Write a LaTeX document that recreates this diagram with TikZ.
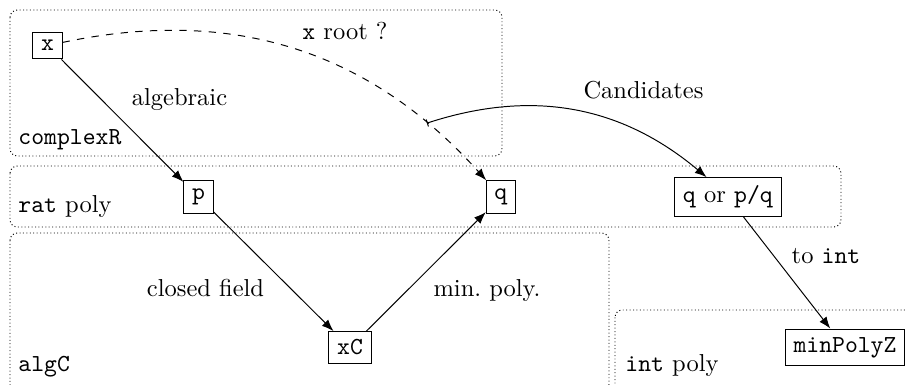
\documentclass[tikz,border=0pt]{standalone}
\usetikzlibrary{arrows.meta}
\begin{document}
\begin{tikzpicture}[x=0.4082pt,y=-0.4082pt,
  region/.style={densely dotted,rounded corners=3pt},
  obj/.style={draw,inner sep=3.33pt},
  lbl/.style={anchor=base,inner sep=0pt},
  rlbl/.style={anchor=base west,inner sep=0pt},
  arr/.style={-{Latex}}]
\useasboundingbox (0,0) rectangle (907,385);
% regions
\draw[region] (10,10) rectangle (502,156);
\draw[region] (10,166) rectangle (841,227);
\draw[region] (10,233) rectangle (609,392);
\draw[region] (615,310) rectangle (930,392);
\node[rlbl] (lcr) at (18,145) {\texttt{complexR}};
\node[rlbl] (lrp) at (18,213) {\texttt{rat} poly};
\node[rlbl] (lac) at (18,372) {\texttt{algC}};
\node[rlbl] (lip) at (625,372) {\texttt{int} poly};
% objects
\node[obj] (x) at (47.5,45.5) {\texttt{x}};
\node[obj] (p) at (198.5,197) {\texttt{p}};
\node[obj] (q) at (501,197) {\texttt{q}};
\node[obj] (xC) at (350,347.5) {\texttt{xC}};
\node[obj] (qp) at (728,197) {\texttt{q} or \texttt{p/q}};
\node[obj] (mz) at (845,347.5) {\texttt{minPolyZ}};
% arrows
\draw[arr] (x) -- (p);
\draw[arr] (p) -- (xC);
\draw[arr] (xC) -- (q);
\draw[arr,dashed] (x) to[bend left=30] coordinate[pos=0.835] (cs) (q);
\draw[{Bar[width=3pt]}-{Latex}] (cs) to[bend left=29] (qp);
\draw[arr] (qp) -- (mz);
% labels
\node[lbl] (lroot) at (345,40) {\texttt{x} root ?};
\node[lbl] (lalg) at (179.5,106) {algebraic};
\node[lbl] (lcand) at (643.5,99) {Candidates};
\node[lbl] (lcf) at (205.5,297) {closed field};
\node[lbl] (lmp) at (487,297) {min.\ poly.};
\node[lbl] (lti) at (826,264) {to \texttt{int}};
\end{tikzpicture}
\end{document}
